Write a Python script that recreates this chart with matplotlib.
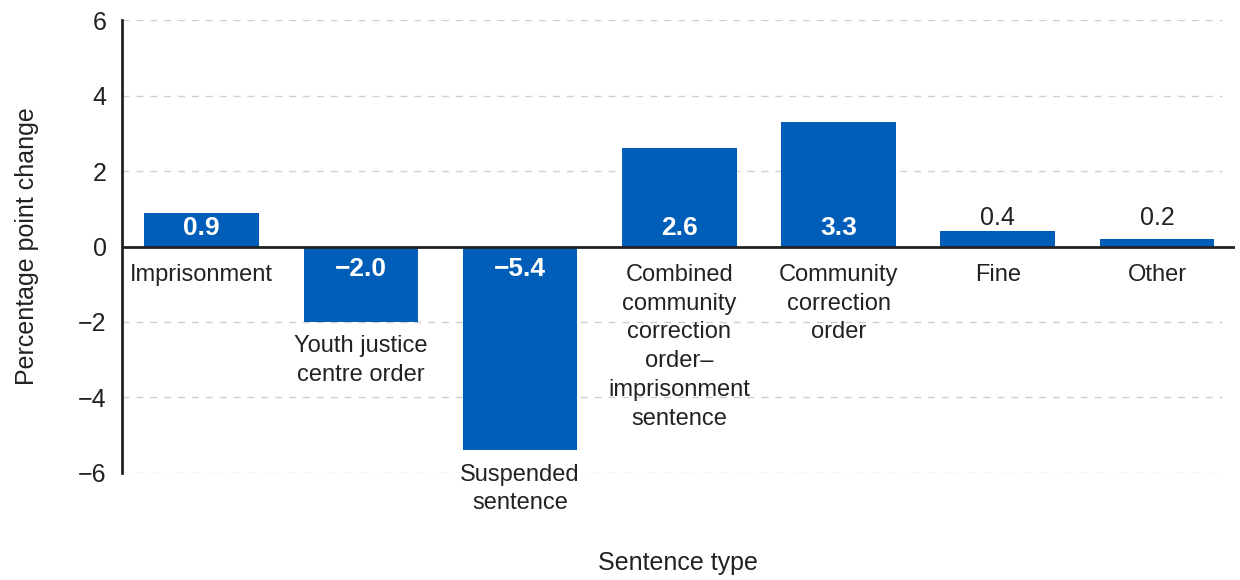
import numpy as np
import matplotlib.pyplot as plt

categories = ['Imprisonment', 'Youth justice\ncentre order', 'Suspended\nsentence',
              'Combined\ncommunity\ncorrection\norder\u2013\nimprisonment\nsentence',
              'Community\ncorrection\norder', 'Fine', 'Other']
values = [0.9, -2.0, -5.4, 2.6, 3.3, 0.4, 0.2]
value_labels = ['0.9', '\u22122.0', '\u22125.4', '2.6', '3.3', '0.4', '0.2']
yticks = [-6, -4, -2, 0, 2, 4, 6]
ytick_labels = ['\u22126', '\u22124', '\u22122', '0', '2', '4', '6']

plt.rcParams['font.family'] = ['Liberation Sans', 'DejaVu Sans']
text_col = '#222222'
bar_col = '#005EB8'

fig = plt.figure(figsize=(12.4, 5.8), dpi=100)
ax = fig.add_axes([0.0984, 0.1845, 0.8976, 0.781])

x = np.arange(len(values))
ax.bar(x, values, width=0.72, color=bar_col, zorder=3)

ax.set_xlim(-0.5, 6.49)
ax.set_ylim(-6, 6)
ax.set_yticks(yticks)
ax.set_yticklabels(ytick_labels, fontsize=18, color=text_col)
ax.tick_params(axis='y', length=0, pad=11)
ax.set_xticks([])

for y in yticks:
    if y != 0:
        ax.axhline(y, xmax=0.988, color='#d0d0d0', linestyle=(0, (5, 5)), linewidth=1, zorder=1)
ax.axhline(0, color='#222222', linewidth=2, zorder=4)

for s in ['top', 'right', 'bottom']:
    ax.spines[s].set_visible(False)
ax.spines['left'].set_linewidth(2)
ax.spines['left'].set_color('#222222')

# value labels
for xi, v, lab in zip(x, values, value_labels):
    if abs(v) >= 0.8:
        yy = 0.49 if v > 0 else -0.6
        ax.text(xi, yy, lab, ha='center', va='center', color='white',
                fontsize=19, fontweight='bold', zorder=5)
    else:
        ax.text(xi, 0.75, lab, ha='center', va='center', color=text_col,
                fontsize=18, zorder=5)

# category labels
for xi, v, cat in zip(x, values, categories):
    off = 0.46 if v > 0 else 0.35
    ax.text(xi, min(v, 0) - off, cat, ha='center', va='top', color=text_col,
            fontsize=17, linespacing=1.4, zorder=5)

ax.set_ylabel('Percentage point change', fontsize=18, color=text_col, labelpad=28)
fig.text(0.547, 0.029, 'Sentence type', ha='center', va='center', fontsize=18, color=text_col)

fig.savefig('out.png', dpi=100)
